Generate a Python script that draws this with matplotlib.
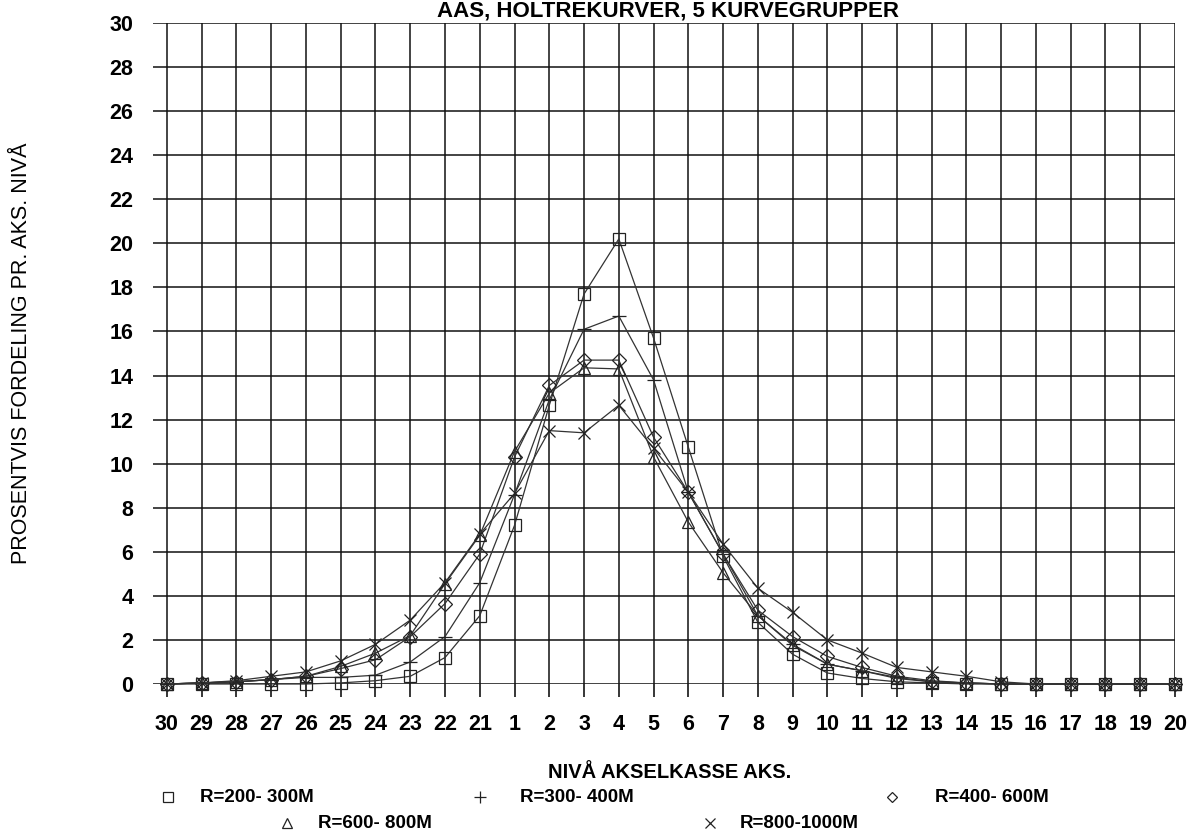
import matplotlib
matplotlib.use("Agg")
import matplotlib.pyplot as plt
from matplotlib.lines import Line2D

plt.rcParams['font.family'] = ['Liberation Sans', 'DejaVu Sans']

categories = ["30", "29", "28", "27", "26", "25", "24", "23", "22", "21",
              "1", "2", "3", "4", "5", "6", "7", "8", "9", "10",
              "11", "12", "13", "14", "15", "16", "17", "18", "19", "20"]

r200_300 = [0, 0, 0, 0, 0, 0.05, 0.15, 0.35, 1.2, 3.1,
            7.2, 12.65, 17.7, 20.2, 15.7, 10.75, 5.8, 2.8, 1.35, 0.5,
            0.25, 0.1, 0.05, 0, 0, 0, 0, 0, 0, 0]
r300_400 = [0, 0.05, 0.1, 0.2, 0.3, 0.3, 0.4, 1.0, 2.15, 4.6,
            8.6, 12.9, 16.1, 16.7, 13.8, 8.7, 5.9, 3.1, 1.8, 0.9,
            0.6, 0.3, 0.1, 0.05, 0, 0, 0, 0, 0, 0]
r400_600 = [0, 0.05, 0.1, 0.2, 0.35, 0.7, 1.1, 2.15, 3.65, 5.9,
            10.3, 13.55, 14.7, 14.7, 11.2, 8.7, 5.9, 3.35, 2.15, 1.25,
            0.75, 0.35, 0.15, 0.05, 0, 0, 0, 0, 0, 0]
r600_800 = [0, 0.05, 0.1, 0.2, 0.35, 0.8, 1.4, 2.2, 4.55, 6.75,
            10.55, 13.2, 14.35, 14.3, 10.3, 7.35, 5.05, 3.1, 1.75, 0.9,
            0.6, 0.25, 0.1, 0.05, 0, 0, 0, 0, 0, 0]
r800_1000 = [0, 0.05, 0.15, 0.35, 0.55, 1.05, 1.8, 2.9, 4.6, 6.8,
             8.65, 11.5, 11.4, 12.65, 10.7, 8.7, 6.35, 4.35, 3.25, 2.0,
             1.4, 0.75, 0.55, 0.35, 0.1, 0, 0, 0, 0, 0]

series = [
    ("R=200- 300M", r200_300, "s", 9),
    ("R=300- 400M", r300_400, "_", 10),
    ("R=400- 600M", r400_600, "D", 7),
    ("R=600- 800M", r600_800, "^", 9),
    ("R=800-1000M", r800_1000, "x", 9),
]

title = "AAS, HOLTREKURVER, 5 KURVEGRUPPER"
xlabel = "NIVÅ AKSELKASSE AKS."
ylabel = "PROSENTVIS FORDELING PR. AKS. NIVÅ"
yticks = list(range(0, 31, 2))

W, H = 1191, 833
fig = plt.figure(figsize=(W / 100, H / 100), dpi=100)
left, right, top, bottom = 153, 1175, 23, 684
ax = fig.add_axes([left / W, 1 - bottom / H, (right - left) / W, (bottom - top) / H])

x = list(range(len(categories)))
for name, vals, mk, ms in series:
    ax.plot(x, vals, color="#333333", lw=0.9, marker=mk, ms=ms,
            mfc="none", mec="#222222", mew=0.9, zorder=3, clip_on=False)

ax.set_xlim(-0.4, len(categories) - 1)
ax.set_ylim(0, 30)
ax.set_xticks(x)
ax.set_xticklabels(categories, fontsize=15.5, fontweight="bold")
ax.set_yticks(yticks)
ax.set_yticklabels([str(v) for v in yticks], fontsize=15.5, fontweight="bold")
ax.tick_params(axis="x", direction="out", length=9.5, width=1.1, color="black", pad=12)
ax.tick_params(axis="y", length=0, pad=14)
ax.grid(True, color="#111111", lw=1.1)
ax.set_axisbelow(True)
for s in ax.spines.values():
    s.set_visible(False)

fig.text(668 / W, 1 - 17 / H, title, ha="center", va="baseline",
         fontsize=16, fontweight="bold")
fig.text(670 / W, 1 - 773 / H, xlabel, ha="center", va="center",
         fontsize=14.5, fontweight="bold")
fig.text(22 / W, 1 - 353 / H, ylabel, ha="center", va="center",
         rotation=90, fontsize=15.5)

legend_pos = [
    (168, 797, 200),
    (480, 797, 520),
    (892, 797, 935),
    (287, 823, 318),
    (710, 823, 740),
]
leg_markers = {"s": ("s", 7), "_": ("+", 8), "D": ("D", 5), "^": ("^", 7), "x": ("x", 7)}
for (name, vals, mk, ms), (mx, my, tx) in zip(series, legend_pos):
    m, s = leg_markers[mk]
    fig.add_artist(Line2D([mx / W], [1 - my / H], transform=fig.transFigure,
                          marker=m, ms=s, mfc="none", mec="#222222", mew=0.9, ls="none"))
    fig.text(tx / W, 1 - my / H, name, ha="left", va="center",
             fontsize=13.5, fontweight="bold")

fig.savefig("out.png", dpi=100)
